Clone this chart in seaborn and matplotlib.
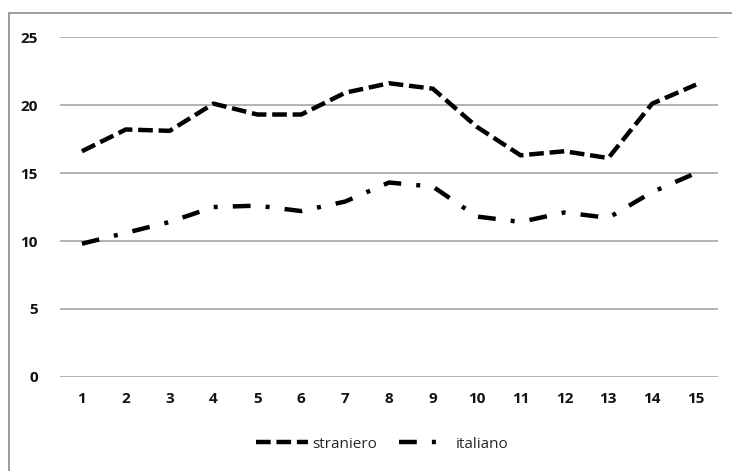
import matplotlib
matplotlib.use("Agg")
import matplotlib.pyplot as plt
import seaborn as sns
import pandas as pd
from matplotlib.patches import Rectangle

# Series values for each of the 15 points
positions = list(range(1, 16))
straniero = [16.6, 18.2, 18.1, 20.1, 19.3, 19.3, 20.9, 21.6, 21.2, 18.4, 16.3, 16.6, 16.1, 20.1, 21.5]
italiano = [9.8, 10.6, 11.4, 12.5, 12.6, 12.2, 12.9, 14.3, 14.0, 11.8, 11.4, 12.1, 11.7, 13.6, 15.0]
y_ticks = [0, 5, 10, 15, 20, 25]
series_names = ["straniero", "italiano"]

df = pd.DataFrame({"x": positions, "straniero": straniero, "italiano": italiano})
long_df = df.melt(id_vars="x", value_vars=series_names, var_name="serie", value_name="valore")

sns.set_theme(style="white")
plt.rcParams["font.family"] = ["Open Sans", "DejaVu Sans"]

fig = plt.figure(figsize=(7.32, 4.71), dpi=100)
W, H = 732, 471
ax = fig.add_axes([60 / W, 1 - 377 / H, 658 / W, 340 / H])

dash_s = (3.3, 1.3)
dash_i = (4.0, 3.4, 0.9, 3.4)

sns.lineplot(
    data=long_df, x="x", y="valore", hue="serie", style="serie",
    palette={"straniero": "black", "italiano": "black"},
    dashes={"straniero": dash_s, "italiano": dash_i},
    linewidth=3.2, ax=ax, legend=False, sort=False,
)

ax.set_xlim(0.5, 15.5)
ax.set_ylim(0, 25)
ax.set_xticks(positions)
ax.set_yticks(y_ticks)
ax.set_xticklabels([str(p) for p in positions], fontsize=11, fontweight="bold", color="#111111")
ax.set_yticklabels([str(t) for t in y_ticks], fontsize=11, fontweight="bold", color="#111111")
ax.tick_params(axis="x", length=0, pad=11)
ax.tick_params(axis="y", length=0, pad=16)
ax.set_xlabel("")
ax.set_ylabel("")
for s in ax.spines.values():
    s.set_visible(False)
ax.yaxis.grid(True, color="#a6a6a6", linewidth=1.2)
ax.xaxis.grid(False)
ax.set_axisbelow(True)

# Legend below the plot
handles = [
    plt.Line2D([], [], color="black", linewidth=3.2, dashes=dash_s),
    plt.Line2D([], [], color="black", linewidth=3.2, dashes=dash_i),
]
fig.legend(handles, series_names, loc="center", bbox_to_anchor=(382 / W, 1 - 444 / H),
           ncol=2, frameon=False, fontsize=11, handlelength=3.4, handletextpad=0.3,
           columnspacing=1.4)

# Chart frame
fig.patches.append(Rectangle((9 / W, -0.05), 1.1, 1 - 13 / H + 0.05, transform=fig.transFigure,
                             fill=False, edgecolor="#8c8c8c", linewidth=1.2))

fig.savefig("out.png", dpi=100)
